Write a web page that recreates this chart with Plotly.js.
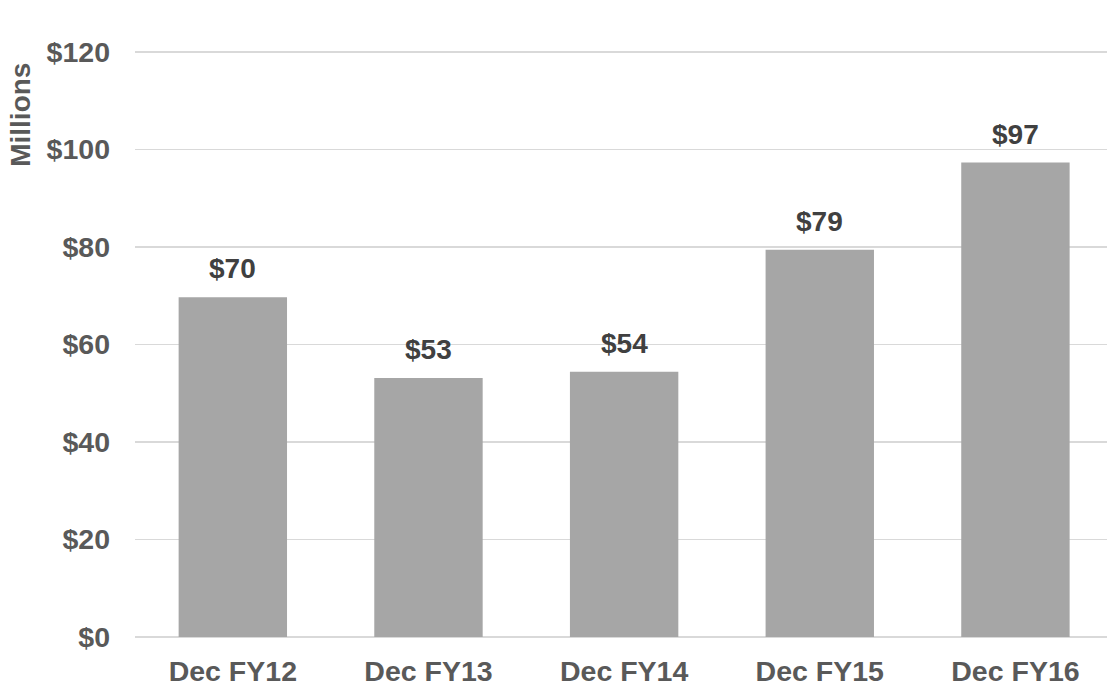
<!DOCTYPE html>
<html>
<head>
<meta charset="utf-8">
<script src="https://cdn.plot.ly/plotly-3.0.1.min.js"></script>
<style>html,body{margin:0;padding:0;background:#fff;}#chart{width:1107px;height:687px;}</style>
</head>
<body>
<div id="chart"></div>
<script>
const categories = ["Dec FY12", "Dec FY13", "Dec FY14", "Dec FY15", "Dec FY16"];
const values = [69.7, 53.1, 54.4, 79.4, 97.3];
const valueLabels = ["$70", "$53", "$54", "$79", "$97"];
const yTickValues = [0, 20, 40, 60, 80, 100, 120];
const yTickLabels = ["$0", "$20", "$40", "$60", "$80", "$100", "$120"];

const fontFam = "'Liberation Sans', Arial, sans-serif";

const trace = {
  type: "bar",
  x: categories,
  y: values,
  marker: {color: "#a6a6a6"},
  hoverinfo: "none"
};

const plotH = 687 - 47 - 50;

const annotations = categories.map((c, i) => ({
  x: c, y: values[i], xref: "x", yref: "y",
  text: "<b>" + valueLabels[i] + "</b>",
  showarrow: false, yanchor: "bottom", yshift: 11,
  font: {family: fontFam, size: 28, color: "#404040"}
}));
annotations.push({
  xref: "paper", yref: "paper", x: 0, y: (637 - 114.5) / plotH,
  xshift: -114.7, xanchor: "center", yanchor: "middle",
  textangle: -90, showarrow: false,
  text: "<b>Millions</b>",
  font: {family: fontFam, size: 28, color: "#595959"}
});

const layout = {
  width: 1107, height: 687,
  margin: {l: 134.7, r: 0, t: 47, b: 50},
  paper_bgcolor: "#ffffff", plot_bgcolor: "#ffffff",
  showlegend: false,
  bargap: 0.446,
  xaxis: {
    type: "category",
    range: [-0.5, 4.468],
    showgrid: false, zeroline: false, showline: false,
    ticks: "", ticklabelstandoff: 14,
    tickfont: {family: fontFam, size: 28.5, color: "#595959", weight: "bold"}
  },
  yaxis: {
    range: [0, 121],
    tickvals: yTickValues, ticktext: yTickLabels,
    showgrid: true, gridcolor: "#d9d9d9", gridwidth: 1.5,
    zeroline: true, zerolinecolor: "#d9d9d9", zerolinewidth: 1.5,
    showline: false, ticks: "", ticklabelstandoff: 24,
    tickfont: {family: fontFam, size: 28.5, color: "#595959", weight: "bold"}
  },
  annotations: annotations
};

Plotly.newPlot("chart", [trace], layout, {displayModeBar: false, staticPlot: true});
</script>
</body>
</html>
